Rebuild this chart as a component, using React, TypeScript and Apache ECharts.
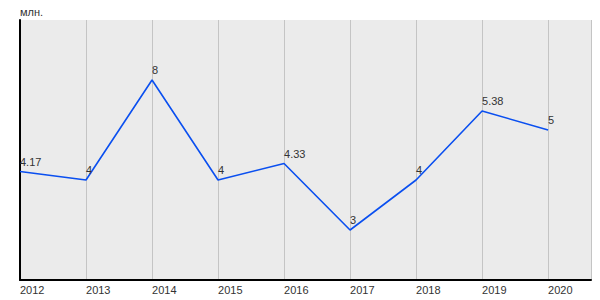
import React, { useEffect, useRef } from "react";
import * as echarts from "echarts";

const years = [2012, 2013, 2014, 2015, 2016, 2017, 2018, 2019, 2020];
// plotted heights as drawn in the reference
const values = [4.17, 4, 6, 4, 4.33, 3, 4, 5.38, 5];
// label texts shown beside each point
const pointLabels = ["4.17", "4", "8", "4", "4.33", "3", "4", "5.38", "5"];
const unitLabel = "млн.";

export default function App() {
  const ref = useRef<HTMLDivElement>(null);
  useEffect(() => {
    if (!ref.current) return;
    const chart = echarts.init(ref.current, null, { renderer: "svg" });
    chart.setOption({
      animation: false,
      backgroundColor: "#ffffff",
      textStyle: { fontFamily: "Arial" },
      title: {
        text: unitLabel,
        left: 20,
        top: 6,
        padding: 0,
        textStyle: { fontSize: 11, fontWeight: "normal", color: "#333", fontFamily: "Arial" },
      },
      grid: { left: 20, right: 9, top: 20, bottom: 20, show: true, backgroundColor: "#ebebeb", borderWidth: 0 },
      xAxis: {
        type: "value",
        min: 2012,
        max: 2020.65,
        interval: 1,
        axisLine: { show: true, lineStyle: { color: "#000", width: 2 } },
        axisTick: { show: false },
        splitLine: { show: true, lineStyle: { color: "#c4c4c4", width: 1 } },
        axisLabel: {
          showMaxLabel: false,
          align: "left",
          margin: 4,
          fontSize: 11,
          color: "#333",
          fontFamily: "Arial",
          formatter: (v: number) => String(v),
        },
      },
      yAxis: {
        type: "value",
        min: 2,
        max: 7.2,
        axisLine: { show: true, lineStyle: { color: "#000", width: 2 } },
        axisTick: { show: false },
        axisLabel: { show: false },
        splitLine: { show: false },
      },
      series: [
        {
          type: "line",
          data: years.map((y, i) => [y, values[i]]),
          symbol: "circle",
          symbolSize: 1,
          showSymbol: true,
          itemStyle: { color: "transparent", borderWidth: 0 },
          lineStyle: { color: "#0a4ff0", width: 1.6 },
          label: {
            show: true,
            position: "top",
            align: "left",
            distance: 4,
            offset: [0, 0],
            fontSize: 11,
            color: "#333",
            fontFamily: "Arial",
            formatter: (p: any) => pointLabels[p.dataIndex],
          },
        },
      ],
    });
    return () => chart.dispose();
  }, []);
  return <div ref={ref} style={{ width: 600, height: 300, position: "absolute", left: 0, top: 0 }} />;
}
